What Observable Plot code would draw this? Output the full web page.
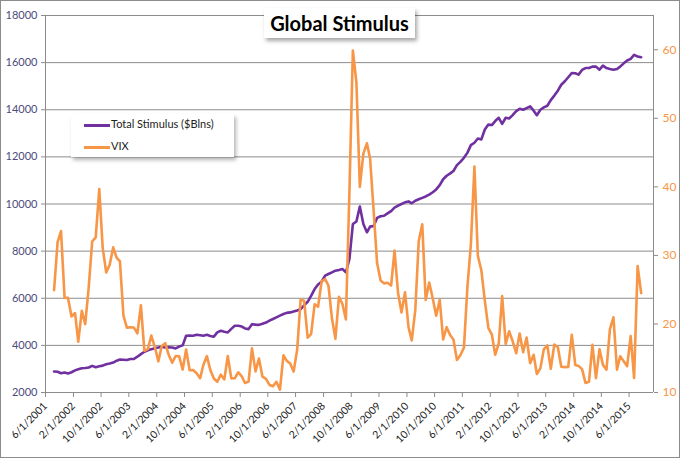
<!DOCTYPE html>
<html><head><meta charset="utf-8">
<script src="https://cdn.jsdelivr.net/npm/d3@7"></script>
<script src="https://cdn.jsdelivr.net/npm/@observablehq/plot@0.6"></script>
<style>
html,body{margin:0;padding:0;background:#fff;}
#wrap{position:relative;width:680px;height:458px;overflow:hidden;}
#frame{position:absolute;left:0;top:0;width:678px;height:456px;border:1px solid #8c8c8c;pointer-events:none;}
#title{position:absolute;left:264px;top:8px;width:151px;height:30px;background:#fff;box-shadow:2px 3px 4px rgba(0,0,0,0.35);font:bold 20px Lato,"Open Sans",sans-serif;text-align:center;line-height:30px;color:#000;}
#legend{position:absolute;left:71px;top:114px;width:163px;height:43px;background:#fff;box-shadow:2px 3px 4px rgba(0,0,0,0.3);font:11px Lato,"Open Sans",sans-serif;color:#222;}
.li{position:absolute;left:13px;height:14px;line-height:14px;white-space:nowrap;}
.sw{display:inline-block;width:26px;height:3px;vertical-align:middle;margin-right:1px;}
</style></head>
<body>
<div id="wrap">
  <div id="chart"></div>
  <div id="title">Global Stimulus</div>
  <div id="legend">
    <div class="li" style="top:3px"><span class="sw" style="background:#7030A0"></span>Total Stimulus ($Blns)</div>
    <div class="li" style="top:25px"><span class="sw" style="background:#F79646"></span>VIX</div>
  </div>
  <div id="frame"></div>
</div>
<script>
// ---- data ----
const xTickLabels = ["6/1/2001","2/1/2002","10/1/2002","6/1/2003","2/1/2004","10/1/2004","6/1/2005","2/1/2006","10/1/2006","6/1/2007","2/1/2008","10/1/2008","6/1/2009","2/1/2010","10/1/2010","6/1/2011","2/1/2012","10/1/2012","6/1/2013","2/1/2014","10/1/2014","6/1/2015"];
const leftTicks = [2000,4000,6000,8000,10000,12000,14000,16000,18000];
const rightTicks = [10,20,30,40,50,60];
const firstMonth = "2001-08";
const lastMonth = "2015-09";
// Total Stimulus ($Blns), monthly Aug 2001 - Sep 2015
const stimulus = [
  2890,2880,2820,2850,2810,
  2860,2940,2990,3030,3040,3060,3130,3070,3110,3140,3200,3230,
  3270,3350,3400,3390,3380,3420,3420,3520,3630,3730,3790,3840,
  3880,3910,3940,3910,3920,3910,3870,3950,4000,4410,4420,4410,
  4450,4430,4410,4450,4400,4370,4550,4620,4580,4550,4700,4830,
  4830,4800,4720,4690,4900,4880,4870,4920,4970,5050,5120,5190,
  5260,5330,5380,5400,5440,5480,5540,5700,5850,6100,6390,6580,
  6700,6960,7030,7100,7170,7200,7240,7100,7670,9150,9260,9890,
  9150,8800,9040,9070,9410,9480,9500,9600,9700,9850,9930,10000,
  10070,10110,10030,10140,10200,10260,10320,10400,10500,10620,10800,11050,
  11200,11300,11400,11650,11790,11960,12170,12500,12600,12780,12740,13160,
  13370,13350,13520,13660,13400,13660,13630,13770,13940,14040,14000,14070,
  14140,13960,13770,14000,14100,14170,14410,14600,14810,15060,15210,15380,
  15560,15550,15490,15690,15770,15770,15830,15830,15700,15870,15770,15730,
  15700,15730,15830,15970,16090,16160,16330,16260,16230
];
// VIX, monthly Aug 2001 - Sep 2015
const vix = [
  24.92,31.93,33.56,23.84,23.80,
  21.09,21.59,17.40,21.91,19.98,25.40,32.03,32.64,39.69,31.14,27.50,28.62,
  31.17,29.63,29.15,21.21,19.47,19.52,19.49,18.63,22.72,16.10,16.32,18.31,
  16.63,14.55,16.74,17.19,15.50,14.34,15.32,15.29,13.34,16.27,13.24,13.29,
  12.82,12.08,14.02,15.31,13.29,12.04,11.57,12.60,11.92,15.32,12.06,12.07,
  12.95,12.34,11.39,11.59,16.44,13.08,14.95,12.31,11.98,11.10,10.91,11.56,
  10.42,15.42,14.64,14.22,13.05,16.23,23.52,23.38,18.00,18.53,22.87,22.50,
  26.20,26.54,25.61,20.79,17.83,23.95,22.94,20.65,39.39,59.89,55.28,40.00,
  44.84,46.35,44.14,36.50,28.92,26.35,25.92,26.01,25.61,30.69,24.51,21.68,
  24.62,19.50,17.59,22.05,32.07,34.54,23.50,26.05,23.70,21.20,23.54,17.75,
  19.53,18.35,17.74,14.75,15.45,16.52,25.25,31.62,42.96,29.96,27.80,23.40,
  19.44,18.43,15.50,17.15,24.06,17.08,18.93,17.47,15.73,18.60,15.87,18.02,
  14.28,15.51,12.70,13.52,16.30,16.86,13.45,17.01,16.60,13.75,13.70,13.72,
  18.41,14.00,13.88,13.41,11.40,11.57,16.95,12.09,16.31,14.03,13.33,19.20,
  20.97,13.34,15.29,14.55,13.84,18.23,12.12,28.43,24.50
];

// ---- build ----
const parseMDY = s => { const [m,d,y] = s.split("/").map(Number); return new Date(Date.UTC(y, m-1, d)); };
const parseYM = s => { const [y,m] = s.split("-").map(Number); return new Date(Date.UTC(y, m-1, 1)); };
const months = d3.utcMonth.range(parseYM(firstMonth), d3.utcMonth.offset(parseYM(lastMonth), 1));
const mid = d => d3.utcDay.offset(d, 14);
const stimData = months.map((d,i) => ({date: mid(d), value: stimulus[i]}));
const vixData = months.map((d,i) => ({date: mid(d), value: vix[i]}));
const tickDates = xTickLabels.map(parseMDY);
const labelOf = new Map(tickDates.map((d,i) => [+d, xTickLabels[i]]));
const xStart = tickDates[0];
const xEnd = d3.utcMonth.offset(tickDates[tickDates.length-1], 7);
const yV = d3.scaleLinear([10, 65], [leftTicks[0], leftTicks[leftTicks.length-1]]);
const grid = "#8c8c8c";

const chart = Plot.plot({
  width: 680, height: 458,
  marginLeft: 45, marginRight: 27, marginTop: 15, marginBottom: 66,
  style: {fontFamily: "Lato, 'Open Sans', sans-serif", fontSize: "11px", background: "transparent"},
  x: {type: "utc", domain: [xStart, xEnd]},
  y: {domain: [leftTicks[0], leftTicks[leftTicks.length-1]]},
  marks: [
    Plot.gridY(leftTicks, {stroke: grid, strokeOpacity: 1, strokeWidth: 1}),
    Plot.ruleX([xStart, xEnd], {stroke: grid, strokeWidth: 1}),
    Plot.ruleY([leftTicks[0]], {stroke: grid, strokeWidth: 1}),
    Plot.axisY(leftTicks, {anchor: "left", tickSize: 4, tickPadding: 4, stroke: grid, fill: "#4b4b7b", label: null, tickFormat: d3.format("d")}),
    Plot.axisY(rightTicks.map(yV), {anchor: "right", tickSize: 4, tickPadding: 5, stroke: grid, fill: "#F79646", label: null, fontSize: 12, tickFormat: d => String(Math.round(yV.invert(d)))}),
    Plot.axisX(tickDates, {anchor: "bottom", tickSize: 5, tickRotate: -45, stroke: grid, fill: "#222", fontSize: 10.5, label: null, tickFormat: d => labelOf.get(+d)}),
    Plot.line(stimData, {x: "date", y: "value", stroke: "#7030A0", strokeWidth: 2.6}),
    Plot.line(vixData, {x: "date", y: d => yV(d.value), stroke: "#F79646", strokeWidth: 2.6})
  ]
});
document.getElementById("chart").appendChild(chart);
</script>
</body></html>
